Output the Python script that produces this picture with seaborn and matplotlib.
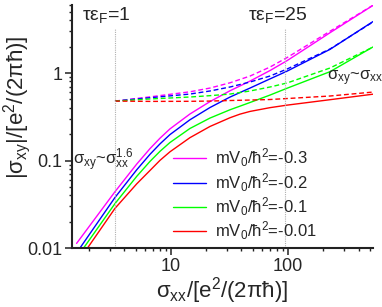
import matplotlib
matplotlib.use("Agg")
import matplotlib.pyplot as plt
import matplotlib.ticker as mticker
import pandas as pd
import seaborn as sns

# curvas cheias: sigma_xx -> |sigma_xy|
sxx = [1.56, 3.32, 5.09, 6.62, 8.05, 9.80, 14.5, 21.5, 31.9, 38.8, 47.3, 70.1, 98.0, 228, 532]
mag_y = [0.0113, 0.0440, 0.0910, 0.137, 0.180, 0.230, 0.340, 0.471, 0.627, 0.711, 0.809,
         1.067, 1.384, 2.884, 5.93]
azul_y = [0.0088, 0.0378, 0.0783, 0.118, 0.155, 0.198, 0.292, 0.403, 0.531, 0.598, 0.673,
          0.857, 1.05, 1.862, 3.873]
verde_y = [0.0077, 0.0322, 0.0659, 0.0979, 0.1274, 0.1607, 0.2323, 0.3055, 0.3802, 0.418,
           0.4603, 0.5598, 0.6699, 1.035, 1.986]
verm_y = [0.0066, 0.0284, 0.0541, 0.0771, 0.1005, 0.1259, 0.1824, 0.2449, 0.3083, 0.3388,
          0.364, 0.402, 0.4295, 0.4955, 0.573]

# curvas tracejadas (mesmo x para todas)
trac_x = [3.32, 6.62, 14.5, 21.5, 31.9, 47.3, 70.1, 98.0, 228, 532]
trac_mag_y = [0.478, 0.534, 0.610, 0.673, 0.773, 0.923, 1.17, 1.50, 3.0, 5.95]
trac_azul_y = [0.478, 0.522, 0.575, 0.623, 0.692, 0.789, 0.924, 1.11, 1.88, 3.83]
trac_verde_y = [0.478, 0.505, 0.532, 0.551, 0.575, 0.623, 0.692, 0.769, 1.14, 1.98]
trac_verm_y = [0.478, 0.474, 0.475, 0.478, 0.485, 0.491, 0.498, 0.511, 0.546, 0.606]

rotulos = [r"mV$_0$/$\hbar^2$=-0.3", r"mV$_0$/$\hbar^2$=-0.2",
           r"mV$_0$/$\hbar^2$=-0.1", r"mV$_0$/$\hbar^2$=-0.01"]
cores = ["#FF00FF", "#0000FF", "#00FF00", "#FF0000"]

# linhas verticais tau*eps_F = 1 e 25
tau_x = [3.32, 94.0]
tau_textos = [r"$\tau\epsilon_F$=1", r"$\tau\epsilon_F$=25"]

sns.set_style("ticks")
plt.rcParams["font.family"] = ["Liberation Sans", "DejaVu Sans"]
plt.rcParams["mathtext.fontset"] = "custom"
plt.rcParams["mathtext.rm"] = "Liberation Sans"
plt.rcParams["mathtext.it"] = "Liberation Sans"
plt.rcParams["mathtext.default"] = "regular"

fig = plt.figure(figsize=(3.82, 3.07), dpi=100)
ax = fig.add_axes([0.1885, 0.192, 0.788, 0.792])

cheias = [mag_y, azul_y, verde_y, verm_y]
tracs = [trac_mag_y, trac_azul_y, trac_verde_y, trac_verm_y]

for ys, yt, cor, rot in zip(cheias, tracs, cores, rotulos):
    df = pd.DataFrame({"sxx": sxx, "sxy": ys})
    sns.lineplot(data=df, x="sxx", y="sxy", color=cor, linewidth=1.0,
                 label=rot, ax=ax, estimator=None)
    dft = pd.DataFrame({"sxx": trac_x, "sxy": yt})
    sns.lineplot(data=dft, x="sxx", y="sxy", color=cor, linewidth=1.0,
                 linestyle=(0, (3.5, 2)), ax=ax, estimator=None, legend=False)

for xv in tau_x:
    ax.vlines(xv, 0.01, 3.3, colors="#b0b0b0", linestyles=(0, (1, 1)), linewidth=0.8)

ax.set_xscale("log")
ax.set_yscale("log")
ax.set_xlim(1.426, 532)
ax.set_ylim(0.01, 6.0)

fmt = mticker.FuncFormatter(lambda v, _: f"{v:g}")
ax.xaxis.set_major_formatter(fmt)
ax.yaxis.set_major_formatter(fmt)
ax.xaxis.set_minor_formatter(mticker.NullFormatter())
ax.yaxis.set_minor_formatter(mticker.NullFormatter())
ax.xaxis.set_minor_locator(mticker.LogLocator(base=10, subs=range(2, 10), numticks=20))
ax.yaxis.set_minor_locator(mticker.LogLocator(base=10, subs=range(2, 10), numticks=20))

ax.tick_params(which="major", direction="out", length=5, width=1.1,
               labelsize=13, pad=2, color="#222222")
ax.tick_params(which="minor", direction="out", length=2.5, width=1.0, color="#222222")

sns.despine(ax=ax)
for lado in ["left", "bottom"]:
    ax.spines[lado].set_linewidth(1.5)
    ax.spines[lado].set_color("#222222")

ax.set_xlabel(r"$\sigma_{xx}$/[e$^2$/(2$\pi\hbar$)]", fontsize=16)
ax.set_ylabel(r"|$\sigma_{xy}$|/[e$^2$/(2$\pi\hbar$)]", fontsize=16)
ax.xaxis.set_label_coords(0.5, -0.11)
ax.yaxis.set_label_coords(-0.13, 0.58)

ax.text(0.033, 0.938, tau_textos[0], transform=ax.transAxes, fontsize=14, va="baseline")
ax.text(0.585, 0.938, tau_textos[1], transform=ax.transAxes, fontsize=14, va="baseline")
ax.text(0.847, 0.691, r"$\sigma_{xy}$~$\sigma_{xx}$", transform=ax.transAxes,
        fontsize=12, va="baseline")
ax.text(0.003, 0.342, r"$\sigma_{xy}$~$\sigma_{xx}^{1.6}$", transform=ax.transAxes,
        fontsize=12, va="baseline")

ax.legend(loc="center left", bbox_to_anchor=(0.336, 0.22), frameon=False,
          fontsize=12, handlelength=2.0, handletextpad=0.5, labelspacing=0.1,
          borderpad=0, borderaxespad=0)

fig.savefig("out.png", dpi=100)
plt.close(fig)
